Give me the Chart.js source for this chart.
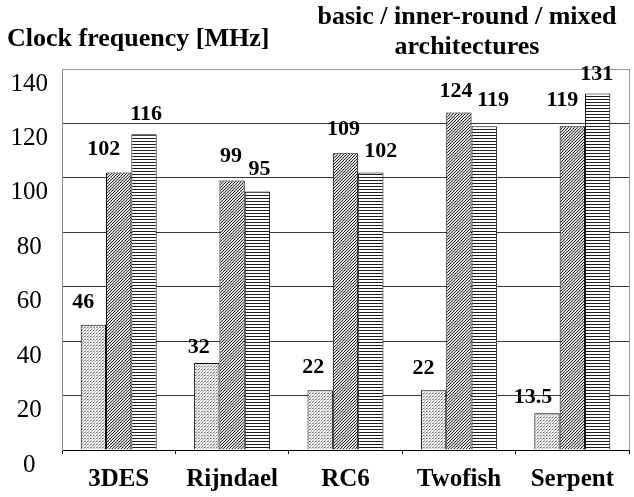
<!DOCTYPE html>
<html>
<head>
<meta charset="utf-8">
<title>Clock frequency</title>
<script src="https://cdn.jsdelivr.net/npm/chart.js@4/dist/chart.umd.min.js"></script>
<style>
  html, body {
    margin: 0;
    padding: 0;
    background: #fff;
  }
  .wrap {
    position: relative;
    width: 634px;
    height: 497px;
    font-family: "Liberation Serif", "Times New Roman", serif;
    color: #000;
  }
  .title-left {
    position: absolute;
    left: 7px;
    top: 25px;
    font-size: 26px;
    line-height: 26px;
    font-weight: bold;
    white-space: nowrap;
  }
  .title-right {
    position: absolute;
    left: 300px;
    width: 334px;
    top: 1px;
    font-size: 26px;
    line-height: 30px;
    font-weight: bold;
    text-align: center;
  }
  canvas {
    position: absolute;
    left: 0;
    top: 0;
  }
</style>
</head>
<body>
<div class="wrap">
  <canvas id="chart" width="634" height="497"></canvas>
  <div class="title-left">Clock frequency [MHz]</div>
  <div class="title-right">basic / inner-round / mixed<br>architectures</div>
</div>
<script>
  // Data.
  const categories = ['3DES', 'Rijndael', 'RC6', 'Twofish', 'Serpent'];
  const seriesNames = ['basic', 'inner-round', 'mixed'];
  const basic = [46, 32, 22, 22, 13.5];
  const innerRound = [102, 99, 109, 124, 119];
  const mixed = [116, 95, 102, 119, 131];
  const yTicks = [0, 20, 40, 60, 80, 100, 120, 140];

  // Small nudges for the value labels, [dx, dy] per bar (layout only).
  const labelNudge = [
    [[-10, -4], [-8, 3], [-7, -4], [-10, -3], [-14, 3]],
    [[-15, -4], [-1, -5], [-2, -5], [-3, -2], [-10, -7]],
    [[2, -1], [2, -3], [10, -2], [9, -7], [-1, 0]]
  ];

  const serif = '"Liberation Serif", "Times New Roman", serif';

  // Fill patterns: stipple, diagonal hatch, horizontal lines.
  function makePattern(kind) {
    const tile = document.createElement('canvas');
    const t = tile.getContext('2d');
    if (kind === 'dots') {
      tile.width = 3;
      tile.height = 3;
      t.fillStyle = '#f4f4f4';
      t.fillRect(0, 0, 3, 3);
      t.fillStyle = '#7a7a7a';
      t.fillRect(0, 0, 1, 1);
      t.fillStyle = '#b4b4b4';
      t.fillRect(1, 2, 1, 1);
      t.fillRect(2, 1, 1, 1);
      t.fillRect(1, 0, 1, 1);
    } else if (kind === 'diag') {
      tile.width = 3;
      tile.height = 3;
      t.fillStyle = '#d8d8d8';
      t.fillRect(0, 0, 3, 3);
      t.fillStyle = '#3a3a3a';
      t.fillRect(2, 0, 1, 1);
      t.fillRect(1, 1, 1, 1);
      t.fillRect(0, 2, 1, 1);
    } else {
      tile.width = 1;
      tile.height = 3;
      t.fillStyle = '#ffffff';
      t.fillRect(0, 0, 1, 3);
      t.fillStyle = '#1e1e1e';
      t.fillRect(0, 0, 1, 1);
    }
    return document.getElementById('chart').getContext('2d').createPattern(tile, 'repeat');
  }

  // Value labels above each bar.
  const valueLabels = {
    id: 'valueLabels',
    afterDatasetsDraw(chart) {
      const ctx = chart.ctx;
      ctx.save();
      ctx.font = 'bold 22px ' + serif;
      ctx.fillStyle = '#000';
      ctx.textAlign = 'center';
      ctx.textBaseline = 'middle';
      chart.data.datasets.forEach((ds, di) => {
        chart.getDatasetMeta(di).data.forEach((bar, i) => {
          const nudge = labelNudge[di][i];
          ctx.fillText(String(ds.data[i]), bar.x + nudge[0], bar.y - 19 + nudge[1]);
        });
      });
      ctx.restore();
    }
  };

  // Right edge of the plot frame.
  const frame = {
    id: 'frame',
    beforeDatasetsDraw(chart) {
      const a = chart.chartArea;
      const ctx = chart.ctx;
      ctx.save();
      ctx.strokeStyle = '#9a9a9a';
      ctx.lineWidth = 1;
      ctx.beginPath();
      ctx.moveTo(Math.round(a.right) + 0.5, a.top);
      ctx.lineTo(Math.round(a.right) + 0.5, a.bottom);
      ctx.stroke();
      ctx.restore();
    }
  };

  const fills = [makePattern('dots'), makePattern('diag'), makePattern('lines')];
  const values = [basic, innerRound, mixed];

  new Chart(document.getElementById('chart'), {
    type: 'bar',
    data: {
      labels: categories,
      datasets: seriesNames.map((name, k) => ({
        label: name,
        data: values[k],
        backgroundColor: fills[k],
        borderColor: '#000',
        borderWidth: 1,
        borderSkipped: 'bottom',
        categoryPercentage: 0.67,
        barPercentage: 1.0
      }))
    },
    options: {
      responsive: false,
      animation: false,
      devicePixelRatio: 1,
      layout: {
        padding: { top: 69, right: 5, bottom: 0, left: 0 }
      },
      plugins: {
        legend: { display: false },
        tooltip: { enabled: false }
      },
      scales: {
        x: {
          afterFit: function (scale) {
            scale.height = 47;
          },
          grid: {
            drawOnChartArea: false,
            drawTicks: true,
            tickLength: 4,
            tickColor: '#000'
          },
          border: { color: '#000', width: 1 },
          ticks: {
            color: '#000',
            padding: 11,
            font: { family: serif, size: 25, weight: 'bold' }
          }
        },
        y: {
          min: 0,
          max: 140,
          afterFit: function (scale) {
            scale.width = 62;
          },
          afterBuildTicks: function (scale) {
            scale.ticks = yTicks.map(v => ({ value: v }));
          },
          grid: {
            drawTicks: false,
            color: function (c) {
              if (c.tick && c.tick.value === 140) return '#9a9a9a';
              if (c.tick && c.tick.value === 0) return '#000';
              return '#3a3a3a';
            }
          },
          border: { color: '#8a8a8a', width: 1 },
          ticks: {
            color: '#000',
            padding: 14,
            labelOffset: 15,
            crossAlign: 'center',
            font: { family: serif, size: 25 }
          }
        }
      }
    },
    plugins: [frame, valueLabels]
  });
</script>
</body>
</html>
